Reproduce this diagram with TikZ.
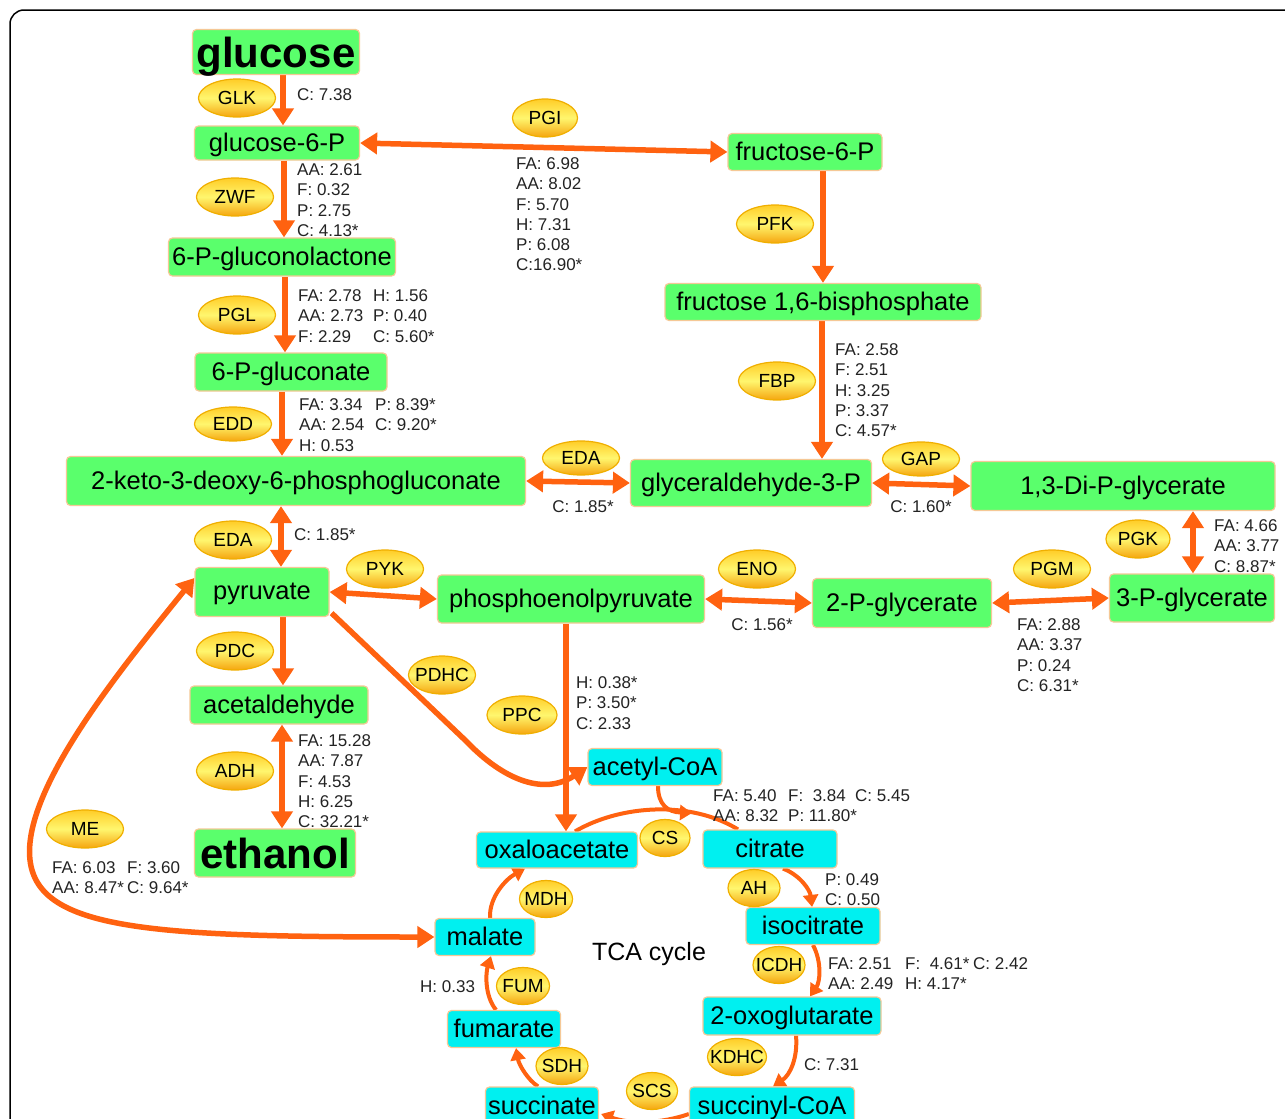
\documentclass[tikz,border=0pt]{standalone}
\usepackage{fontspec}
\setmainfont{Liberation Sans}
\usetikzlibrary{arrows.meta,shapes.geometric,calc,backgrounds}
\definecolor{boxg}{RGB}{90,255,108}
\definecolor{boxc}{RGB}{0,240,240}
\definecolor{boxe}{RGB}{245,200,150}
\definecolor{orng}{RGB}{255,98,16}
\definecolor{enzE}{RGB}{240,175,0}
\definecolor{enzT}{RGB}{255,205,40}
\definecolor{enzM}{RGB}{255,246,110}
\definecolor{enzB}{RGB}{245,165,15}
\definecolor{labc}{RGB}{35,35,35}
\newcommand{\ez}[1]{\makebox[0pt]{#1}}
\newcommand{\cw}[2]{\makebox[#1][l]{#2}}
\tikzset{BigTri/.tip={Triangle[width=21pt,length=17pt]},
         SmTri/.tip={Triangle[width=15pt,length=12pt]}}
\begin{document}
\begin{tikzpicture}[x=1pt,y=-1pt,
  met/.style={draw=boxe, line width=1.2pt, fill=boxg, rounded corners=4pt, inner sep=0pt, text depth=2pt, font=\fontsize{25.5}{30}\selectfont},
  tca/.style={met, fill=boxc},
  big/.style={met, text depth=0pt, font=\fontsize{42}{50}\selectfont\bfseries},
  enz/.style={ellipse, draw=enzE, line width=1.2pt, top color=enzT, bottom color=enzB, middle color=enzM, minimum width=77pt, minimum height=38pt, inner sep=0pt, font=\fontsize{19}{22}\selectfont},
  tenz/.style={enz, minimum width=52pt, minimum height=37pt},
  lab/.style={anchor=north west, inner sep=0pt, text=labc, font=\fontsize{17}{20.3}\selectfont},
  lab1/.style={lab, anchor=west},
  lab0/.style={lab, anchor=center},
  arr/.style={draw=orng, line width=5.5pt, -BigTri},
  darr/.style={draw=orng, line width=5.5pt, BigTri-BigTri},
  tarr/.style={draw=orng, line width=4pt, -SmTri},
  tline/.style={draw=orng, line width=4pt},
]
\useasboundingbox (0,0) rectangle (1285,1119);
\clip (0,0) rectangle (1285,1119);

% metabolites
\node[big, minimum width=167pt, minimum height=45pt] (glucose) at (276,52) {glucose};
\node[met, minimum width=165pt, minimum height=34pt] (g6p) at (277,143) {glucose-6-P};
\node[met, minimum width=154pt, minimum height=37pt] (f6p) at (805,152) {fructose-6-P};
\node[met, minimum width=227pt, minimum height=38pt] (pgl6) at (282,257) {6-P-gluconolactone};
\node[met, minimum width=316pt, minimum height=37pt] (fbp16) at (823,302) {fructose 1,6-bisphosphate};
\node[met, minimum width=192pt, minimum height=38pt] (pg6) at (291,372) {6-P-gluconate};
\node[met, minimum width=459pt, minimum height=49pt] (kdpg) at (296,481) {2-keto-3-deoxy-6-phosphogluconate};
\node[met, minimum width=241pt, minimum height=47pt] (gap) at (751,483) {glyceraldehyde-3-P};
\node[met, minimum width=304pt, minimum height=49pt] (dpg13) at (1123,486) {1,3-Di-P-glycerate};
\node[met, minimum width=134pt, minimum height=49pt] (pyr) at (262,592) {pyruvate};
\node[met, minimum width=267pt, minimum height=48pt] (pep) at (571,599) {phosphoenolpyruvate};
\node[met, minimum width=179pt, minimum height=49pt] (pg2) at (902,603) {2-P-glycerate};
\node[met, minimum width=165pt, minimum height=48pt] (pg3) at (1192,598) {3-P-glycerate};
\node[met, minimum width=178pt, minimum height=38pt] (acald) at (279,705) {acetaldehyde};
\node[big, minimum width=161pt, minimum height=48pt] (etoh) at (275,853) {ethanol};
\node[tca, minimum width=134pt, minimum height=37pt] (acoa) at (655,767) {acetyl-CoA};
\node[tca, minimum width=161pt, minimum height=36pt] (oxa) at (557,850) {oxaloacetate};
\node[tca, minimum width=134pt, minimum height=38pt] (cit) at (770,849) {citrate};
\node[tca, minimum width=134pt, minimum height=37pt] (iso) at (813,926) {isocitrate};
\node[tca, minimum width=100pt, minimum height=37pt] (mal) at (485,937) {malate};
\node[tca, minimum width=178pt, minimum height=38pt] (oxo) at (792,1016) {2-oxoglutarate};
\node[tca, minimum width=113pt, minimum height=37pt] (fum) at (504,1029) {fumarate};
\node[tca, minimum width=113pt, minimum height=38pt] (succ) at (542,1106) {succinate};
\node[tca, minimum width=165pt, minimum height=38pt] (scoa) at (772,1106) {succinyl-CoA};

% enzymes
\node[enz] (eGLK) at (237,98) {\ez{GLK}};
\node[enz, minimum width=65pt] (ePGI) at (545,118) {\ez{PGI}};
\node[enz] (eZWF) at (235,197) {\ez{ZWF}};
\node[enz] (ePFK) at (775,224) {\ez{PFK}};
\node[enz] (ePGL) at (237,315) {\ez{PGL}};
\node[enz] (eFBP) at (777,381) {\ez{FBP}};
\node[enz, minimum height=34pt] (eEDD) at (233,424) {\ez{EDD}};
\node[enz, minimum height=34pt] (eEDA1) at (581,458) {\ez{EDA}};
\node[enz, minimum height=34pt] (eGAP) at (921,459) {\ez{GAP}};
\node[enz] (eEDA2) at (233,540) {\ez{EDA}};
\node[enz] (ePYK) at (385,569) {\ez{PYK}};
\node[enz] (eENO) at (757,569) {\ez{ENO}};
\node[enz] (ePGM) at (1052,569) {\ez{PGM}};
\node[enz, minimum width=64pt] (ePGK) at (1138,539) {\ez{PGK}};
\node[enz] (ePDC) at (235,651) {\ez{PDC}};
\node[enz, minimum width=67pt] (ePDHC) at (442,675) {\ez{PDHC}};
\node[enz, minimum width=70pt] (ePPC) at (522,715) {\ez{PPC}};
\node[enz] (eADH) at (235,771) {\ez{ADH}};
\node[enz] (eME) at (85,829) {\ez{ME}};
\node[tenz, minimum width=50pt] (eCS) at (665,838) {\ez{CS}};
\node[tenz] (eAH) at (754,888) {\ez{AH}};
\node[tenz, minimum width=53pt] (eMDH) at (546,899) {\ez{MDH}};
\node[tenz] (eICDH) at (779,965) {\ez{ICDH}};
\node[tenz, minimum width=53pt] (eFUM) at (523,986) {\ez{FUM}};
\node[tenz] (eSDH) at (562,1066) {\ez{SDH}};
\node[tenz, minimum width=59pt] (eKDHC) at (737,1057) {\ez{KDHC}};
\node[tenz, minimum width=51pt] (eSCS) at (652,1091) {\ez{SCS}};

% value labels
\node[lab1] (lGLK) at (297,95) {C: 7.38};
\node[lab] (lZWF) at (297,161) {\begin{tabular}{@{}l@{}}AA: 2.61\\F: 0.32\\P: 2.75\\C: 4.13*\end{tabular}};
\node[lab] (lPGI) at (516,155) {\begin{tabular}{@{}l@{}}FA: 6.98\\AA: 8.02\\F: 5.70\\H: 7.31\\P: 6.08\\C:16.90*\end{tabular}};
\node[lab] (lPGL) at (298,287) {\begin{tabular}{@{}l@{}}\cw{75pt}{FA: 2.78}H: 1.56\\\cw{75pt}{AA: 2.73}P: 0.40\\\cw{75pt}{F: 2.29}C: 5.60*\end{tabular}};
\node[lab] (lFBP) at (835,341) {\begin{tabular}{@{}l@{}}FA: 2.58\\F: 2.51\\H: 3.25\\P: 3.37\\C: 4.57*\end{tabular}};
\node[lab] (lEDD) at (299,396) {\begin{tabular}{@{}l@{}}\cw{76pt}{FA: 3.34}P: 8.39*\\\cw{76pt}{AA: 2.54}C: 9.20*\\H: 0.53\end{tabular}};
\node[lab0] (lEDA1) at (583,507) {C: 1.85*};
\node[lab0] (lGAP) at (921,507) {C: 1.60*};
\node[lab1] (lEDA2) at (294,535) {C: 1.85*};
\node[lab] (lPGK) at (1214,517) {\begin{tabular}{@{}l@{}}FA: 4.66\\AA: 3.77\\C: 8.87*\end{tabular}};
\node[lab0] (lENO) at (762,625) {C: 1.56*};
\node[lab] (lPGM) at (1017,616) {\begin{tabular}{@{}l@{}}FA: 2.88\\AA: 3.37\\P: 0.24\\C: 6.31*\end{tabular}};
\node[lab] (lPPC) at (576,674) {\begin{tabular}{@{}l@{}}H: 0.38*\\P: 3.50*\\C: 2.33\end{tabular}};
\node[lab] (lADH) at (298,732) {\begin{tabular}{@{}l@{}}FA: 15.28\\AA: 7.87\\F: 4.53\\H: 6.25\\C: 32.21*\end{tabular}};
\node[lab] (lME) at (52,859) {\begin{tabular}{@{}l@{}}\cw{75pt}{FA: 6.03}F: 3.60\\\cw{75pt}{AA: 8.47*}C: 9.64*\end{tabular}};
\node[lab] (lCS) at (713,787) {\begin{tabular}{@{}l@{}}\cw{75pt}{FA: 5.40}\cw{67pt}{F:\ \ 3.84}C: 5.45\\\cw{75pt}{AA: 8.32}P: 11.80*\end{tabular}};
\node[lab] (lAH) at (825,871) {\begin{tabular}{@{}l@{}}P: 0.49\\C: 0.50\end{tabular}};
\node[lab] (lICDH) at (828,955) {\begin{tabular}{@{}l@{}}\cw{77pt}{FA: 2.51}\cw{68pt}{F:\ \ 4.61*}C: 2.42\\\cw{77pt}{AA: 2.49}H: 4.17*\end{tabular}};
\node[lab1] (lFUM) at (420,987) {H: 0.33};
\node[lab1] (lKDHC) at (804,1065) {C: 7.31};
\node[font=\fontsize{25}{30}\selectfont, inner sep=0pt] (tcal) at (649,954) {TCA cycle};

\begin{scope}[on background layer]
\fill[white] (0,0) rectangle (1285,1119);
\draw[line width=1.5pt, rounded corners=14pt] (10,10) rectangle (1320,1150);
\draw[arr] (glucose.south -| 283,0) -- (g6p.north -| 283,0);
\draw[darr] (g6p.east) -- (f6p.west);
\draw[arr] (g6p.south -| 284,0) -- (pgl6.north -| 284,0);
\draw[arr] (pgl6.south -| 285,0) -- (pg6.north -| 285,0);
\draw[arr] (pg6.south -| 282,0) -- (kdpg.north -| 282,0);
\draw[arr] (f6p.south -| 823,0) -- (fbp16.north -| 823,0);
\draw[arr] (fbp16.south -| 822,0) -- (gap.north -| 822,0);
\draw[darr] (kdpg.east) -- (gap.west);
\draw[darr] (gap.east) -- (dpg13.west);
\draw[darr] (kdpg.south -| 281,0) -- (pyr.north -| 281,0);
\draw[darr] (pyr.east) -- (pep.west);
\draw[darr] (pep.east) -- (pg2.west);
\draw[darr] (pg2.east) -- (pg3.west);
\draw[darr] (dpg13.south -| 1193,0) -- (pg3.north -| 1193,0);
\draw[arr] (pyr.south -| 283,0) -- (acald.north -| 283,0);
\draw[darr] (acald.south -| 282,0) -- (etoh.north -| 282,0);
\draw[arr] (pep.south -| 566,0) -- (oxa.north -| 566,0);
\draw[arr] ($(pyr.south east)+(2,-4)$) -- (465,740) .. controls (505,782) and (545,795) .. (acoa.west);
\draw[darr] ($(pyr.west)+(0,-14)$) .. controls (120,670) and (22,790) .. (30,860) .. controls (38,930) and (150,937) .. (mal.west);
% TCA cycle
\draw[tline] (oxa.north -| 575,0) .. controls (620,805) and (690,800) .. (cit.north -| 738,0);
\draw[tarr] (acoa.south -| 658,0) .. controls (658,805) and (668,812) .. (692,813);
\draw[tarr] (cit.south -| 783,0) .. controls (800,875) and (810,890) .. (iso.north -| 812,0);
\draw[tarr] (iso.south -| 813,0) .. controls (822,962) and (820,982) .. (oxo.north -| 810,0);
\draw[tarr] (oxo.south -| 796,0) .. controls (798,1058) and (790,1075) .. (scoa.north -| 773,0);
\draw[tarr] ($(scoa.west)+(0,8)$) .. controls (660,1124) and (630,1124) .. ($(succ.east)+(2,8)$);
\draw[tarr] (succ.north -| 538,0) .. controls (528,1080) and (519,1065) .. (fum.south -| 516,0);
\draw[tarr] (fum.north -| 496,0) .. controls (484,995) and (486,972) .. (mal.south -| 491,0);
\draw[tarr] (mal.north -| 490,0) .. controls (489,897) and (506,879) .. (oxa.south -| 525,0);
\end{scope}
\end{tikzpicture}
\end{document}
